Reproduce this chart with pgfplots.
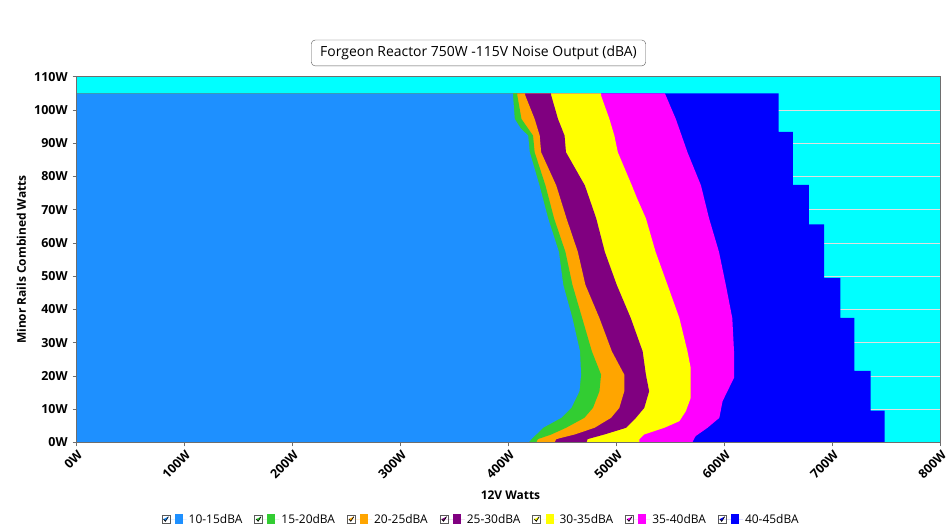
\documentclass[border=0pt]{standalone}
\usepackage{fontspec}
\setmainfont{Open Sans}
\usepackage{pgfplots}
\pgfplotsset{compat=1.18}
\definecolor{dbA10}{HTML}{1E90FF}
\definecolor{dbA15}{HTML}{32CD32}
\definecolor{dbA20}{HTML}{FFA500}
\definecolor{dbA25}{HTML}{800080}
\definecolor{dbA30}{HTML}{FFFF00}
\definecolor{dbA35}{HTML}{FF00FF}
\definecolor{dbA40}{HTML}{0000FF}
\definecolor{bgcyan}{HTML}{00FFFF}
\definecolor{framegray}{HTML}{6E6E6E}

\begin{document}
\begin{tikzpicture}
  \begin{axis}[
    scale only axis,
    width=867pt, height=367pt,
    xmin=0, xmax=800, ymin=0, ymax=110,
    clip=false,
    axis background/.style={fill=bgcyan},
    xtick={0,100,...,800},
    xticklabels={0W,100W,200W,300W,400W,500W,600W,700W,800W},
    ytick={0,10,...,110},
    yticklabels={0W,10W,20W,30W,40W,50W,60W,70W,80W,90W,100W,110W},
    ymajorgrids,
    grid style={gray!25, line width=0.8pt},
    axis line style={draw=framegray, line width=1.2pt},
    tick pos=left, tick align=outside,
    major tick length=4pt,
    tick style={framegray, line width=0.8pt},
    xticklabel style={rotate=45, anchor=north east, font=\fontsize{12.5}{14}\selectfont\bfseries, inner sep=2pt},
    yticklabel style={font=\fontsize{12.5}{14}\selectfont\bfseries, inner sep=5pt},
    xlabel={12V Watts},
    ylabel={Minor Rails Combined Watts},
    xlabel style={at={(axis description cs:0.502,-0.145)}, anchor=center, font=\fontsize{12}{14}\selectfont\bfseries},
    ylabel style={at={(axis description cs:-0.064,0.5)}, anchor=center, font=\fontsize{12}{14}\selectfont\bfseries},
    legend columns=7,
    legend style={at={(0.468,-0.21)}, anchor=center, draw=none, fill=none,
      font=\fontsize{12}{14}\selectfont,
      /tikz/every even column/.append style={column sep=10pt}},
    legend image code/.code={
      \draw[draw=gray!70!black, fill=white, line width=0.5pt] (0pt,-4pt) rectangle (8pt,4pt);
      \draw[draw=black, line width=0.7pt] (1.7pt,0.2pt) -- (3.6pt,-2pt) -- (6.6pt,2.6pt);
      \fill[#1] (13pt,-5pt) rectangle (21pt,5pt);
      \path (0pt,0pt) -- (25pt,0pt);
    },
  ]
    \addlegendimage{fill=dbA10, draw=none}
    \addlegendentry{10-15dBA}
    \addlegendimage{fill=dbA15, draw=none}
    \addlegendentry{15-20dBA}
    \addlegendimage{fill=dbA20, draw=none}
    \addlegendentry{20-25dBA}
    \addlegendimage{fill=dbA25, draw=none}
    \addlegendentry{25-30dBA}
    \addlegendimage{fill=dbA30, draw=none}
    \addlegendentry{30-35dBA}
    \addlegendimage{fill=dbA35, draw=none}
    \addlegendentry{35-40dBA}
    \addlegendimage{fill=dbA40, draw=none}
    \addlegendentry{40-45dBA}

    % each band is filled from 0W out to its right-hand edge, loudest first
    \addplot[fill=dbA40, draw=none, forget plot] coordinates {
      (0,0) (748,0) (748,9.6) (735,9.6) (735,21.5) (720,21.5) (720,37.5)
      (707,37.5) (707,49.5) (692,49.5) (692,65.6) (678,65.6) (678,77.5)
      (663,77.5) (663,93.4) (650,93.4) (650,105) (0,105)} -- cycle;
    \addplot[fill=dbA35, draw=none, forget plot] coordinates {
      (0,0) (570,0) (573,1.9) (584,4.4) (595,7.4) (598,12.4) (605.5,17.4)
      (608.6,19.4) (608.6,27.4) (607,37.4) (601,47.4) (594.7,57.3)
      (585.5,67.4) (578,77.3) (565.5,87.3) (554.7,97.3) (544.6,105) (0,105)} -- cycle;
    \addplot[fill=dbA30, draw=none, forget plot] coordinates {
      (0,0) (521,0) (521,1) (525.5,2.4) (544,4.4) (558,6.4) (564,9.4)
      (568.5,13.4) (568.5,22.4) (565.5,27.4) (558,37.4) (547,47.4) (536,57.3)
      (527,67.4) (519,73.3) (514,77.3) (501,87.3) (497.8,92.3) (493.2,97.3)
      (485.5,104.3) (485.5,105) (0,105)} -- cycle;
    \addplot[fill=dbA25, draw=none, forget plot] coordinates {
      (0,0) (472,0) (473,1) (488.6,2.4) (508.6,4.4) (517.8,7.4) (525.5,10.4)
      (530,15.4) (527,20.4) (524,27.4) (513,37.4) (500,47.4) (489,57.3)
      (481,67.4) (470.5,77.3) (453,87.3) (451.7,92.3) (445.6,97.3)
      (439.4,104.3) (439,105) (0,105)} -- cycle;
    \addplot[fill=dbA20, draw=none, forget plot] coordinates {
      (0,0) (442.5,0) (444,1) (461,2.4) (479.4,4.4) (494.7,7.4) (502.4,10.4)
      (507,15.4) (507,20.4) (495.5,27.4) (484,37.4) (471,47.4) (464,57.3)
      (453.5,67.4) (444,77.3) (430,87.3) (428.7,92.3) (424,97.3)
      (415.4,104.3) (415,105) (0,105)} -- cycle;
    \addplot[fill=dbA15, draw=none, forget plot] coordinates {
      (0,0) (425.5,0) (427,1) (439.4,2.4) (453,4.4) (470,7.4) (478,10.4)
      (484,15.4) (485.5,20.4) (477,27.4) (468,37.4) (459,47.4) (452.5,57.3)
      (442,67.4) (434,77.3) (424,87.3) (422.5,92.3) (411.8,97.3)
      (408,104.3) (408,105) (0,105)} -- cycle;
    \addplot[fill=dbA10, draw=none, forget plot] coordinates {
      (0,0) (418.5,0) (421,1) (425.5,2.4) (431.7,4.4) (448.6,7.4) (458,10.4)
      (465.5,15.4) (467,20.4) (466,27.4) (459,37.4) (450.5,47.4) (446.5,57.3)
      (436.5,67.4) (428.5,77.3) (419.5,87.3) (418,92.3) (411,94.5)
      (405.6,97.3) (404,104.3) (404,105) (0,105)} -- cycle;

    \draw[framegray, line width=1.2pt] (rel axis cs:0,0) rectangle (rel axis cs:1,1);
    \node[draw=gray!70!black, rounded corners=4pt, fill=white, inner xsep=9pt, inner ysep=6pt,
      font=\fontsize{14}{17}\selectfont] at (rel axis cs:0.465,1.065)
      {Forgeon Reactor 750W -115V Noise Output (dBA)};
  \end{axis}
  \path (-77pt,-86pt) rectangle (873pt,444pt);
\end{tikzpicture}
\end{document}
